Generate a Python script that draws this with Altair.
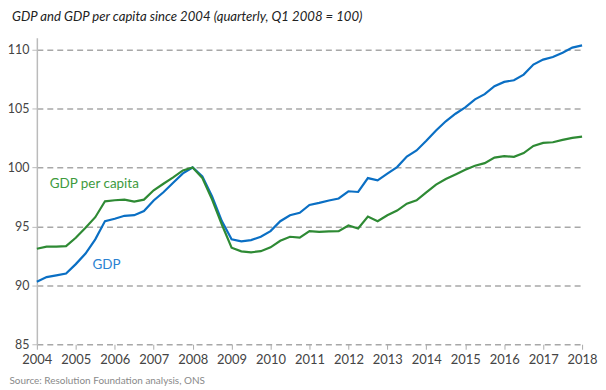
import altair as alt
import pandas as pd

years = [2004 + i / 4 for i in range(57)]

gdp = [90.3, 90.7, 90.85, 91.0,
       91.8, 92.7, 93.9, 95.45,
       95.65, 95.9, 95.95, 96.3,
       97.2, 97.9, 98.7, 99.5,
       100.0, 99.25, 97.55, 95.45,
       93.9, 93.73, 93.84, 94.12,
       94.6, 95.44, 95.95, 96.15,
       96.82, 97.0, 97.2, 97.37,
       97.98, 97.92, 99.1, 98.9,
       99.47, 100.03, 100.93, 101.44,
       102.26, 103.13, 103.92, 104.56,
       105.1, 105.78, 106.22, 106.9,
       107.26, 107.4, 107.88, 108.73,
       109.15, 109.37, 109.74, 110.17,
       110.36]

gdp_pc = [93.1, 93.28, 93.28, 93.33,
          94.04, 94.88, 95.78, 97.13,
          97.22, 97.27, 97.1, 97.27,
          98.06, 98.62, 99.16, 99.75,
          100.0, 99.1, 97.27, 95.16,
          93.19, 92.88, 92.8, 92.9,
          93.22, 93.78, 94.12, 94.04,
          94.6, 94.54, 94.57, 94.6,
          95.08, 94.82, 95.83, 95.44,
          95.95, 96.34, 96.93, 97.21,
          97.89, 98.54, 99.02, 99.41,
          99.8, 100.14, 100.37, 100.84,
          100.96, 100.9, 101.22, 101.83,
          102.09, 102.14, 102.34, 102.51,
          102.62]

series_names = ["GDP", "GDP per capita"]
series_colors = ["#0a6fc4", "#2e8a34"]

label_text = ["GDP per capita", "GDP"]
label_x = [2004.33, 2005.43]
label_y = [98.56, 91.71]
label_colors = ["#3d9a3d", "#2a82d2"]

x_ticks = list(range(2004, 2019))
y_ticks = [85, 90, 95, 100, 105, 110]

title_text = "GDP and GDP per capita since 2004 (quarterly, Q1 2008 = 100)"
source_text = "Source: Resolution Foundation analysis, ONS"

rows = []
for name, vals in zip(series_names, [gdp, gdp_pc]):
    for x, v in zip(years, vals):
        rows.append({"year": x, "value": v, "series": name})
df = pd.DataFrame(rows)

labels_df = pd.DataFrame({"text": label_text, "year": label_x, "value": label_y, "color": label_colors})

FONT = "Lato"

x_enc = alt.X("year:Q", scale=alt.Scale(domain=[2004, 2018], nice=False, zero=False),
              axis=alt.Axis(values=x_ticks, format="d", grid=False, domain=False,
                            ticks=True, tickSize=5, tickColor="#aaaaaa", tickWidth=1,
                            labelFontSize=13, labelColor="#444444", labelFont=FONT,
                            labelPadding=4, labelFlush=False, labelOverlap=False,
                            labelBound=False,
                            title=source_text, titleFont=FONT, titleFontSize=10,
                            titleColor="#8a8a8a", titleFontWeight="normal",
                            titleAnchor="start", titleAlign="left", titleBaseline="middle",
                            titleX=-28, titleY=36))
y_enc = alt.Y("value:Q", scale=alt.Scale(domain=[85, 111], nice=False, zero=False),
              axis=alt.Axis(values=y_ticks, grid=True, gridDash=[6, 4], gridColor="#a8a8a8",
                            gridWidth=1.5, domain=True, domainColor="#bbbbbb", domainWidth=1.5,
                            ticks=True, tickSize=5, tickColor="#bbbbbb", tickWidth=1,
                            labelFontSize=12.5, labelColor="#444444", labelFont=FONT,
                            labelPadding=3, labelOverlap=False, title=None))

lines = alt.Chart(df).mark_line(strokeWidth=2.2).encode(
    x=x_enc,
    y=y_enc,
    color=alt.Color("series:N", scale=alt.Scale(domain=series_names, range=series_colors), legend=None),
)

labels = alt.Chart(labels_df).mark_text(align="left", baseline="middle", fontSize=13.5, font=FONT).encode(
    x=x_enc,
    y=y_enc,
    text="text:N",
    color=alt.Color("color:N", scale=None),
)

chart = alt.layer(lines, labels).properties(
    width=548,
    height=308,
    title=alt.TitleParams(title_text, anchor="start", frame="group", font=FONT, fontSize=13.2,
                          fontStyle="italic", fontWeight="normal", color="#222222",
                          dx=-25, offset=14),
    autosize=alt.AutoSizeParams(type="none"),
    padding={"left": 29, "top": 29, "right": 16, "bottom": 45},
).configure_view(stroke=None).configure_axis(labelOverlap=False)

chart.save("out.html", embed_options={"renderer": "svg", "actions": False})
